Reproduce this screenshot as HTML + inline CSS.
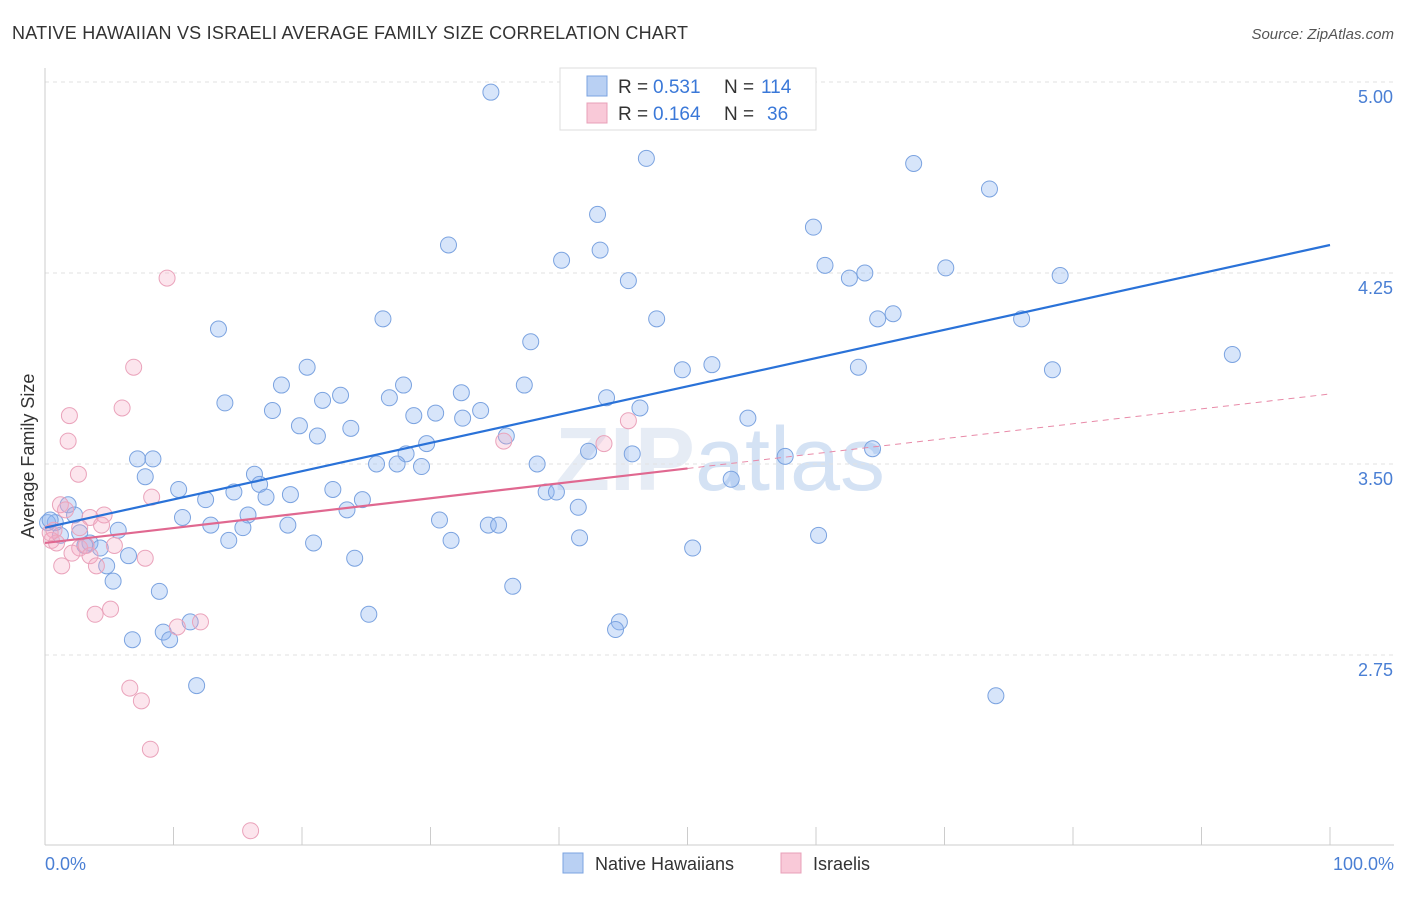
<!DOCTYPE html>
<html><head><meta charset="utf-8"><style>
body{margin:0;background:#fff;font-family:"Liberation Sans",sans-serif;}
svg text{font-family:"Liberation Sans",sans-serif;}
</style></head><body>
<svg id="chart" width="1406" height="892" viewBox="0 0 1406 892" xmlns="http://www.w3.org/2000/svg">
<text x="12" y="39" font-size="18" fill="#333" textLength="676">NATIVE HAWAIIAN VS ISRAELI AVERAGE FAMILY SIZE CORRELATION CHART</text>
<text x="1394" y="39" font-size="15" fill="#555" text-anchor="end" font-style="italic">Source: ZipAtlas.com</text>
<text x="720" y="490" font-size="90" fill="#e6ecf5" text-anchor="middle" font-weight="bold">ZIP<tspan font-weight="normal" fill="#d4e2f4">atlas</tspan></text>
<g id="grid"></g>
<line x1="45" y1="68" x2="45" y2="845" stroke="#ccc"/>
<line x1="45" y1="845" x2="1394" y2="845" stroke="#ccc"/>
<g id="xticks"></g>
<text transform="translate(34,456) rotate(-90)" font-size="18" fill="#333" text-anchor="middle">Average Family Size</text>
<text x="45" y="870" font-size="18" fill="#4a7fd4">0.0%</text>
<text x="1394" y="870" font-size="18" fill="#4a7fd4" text-anchor="end">100.0%</text>
<g id="points"></g>
<g id="trends"></g>
<g>
<rect x="560" y="68" width="256" height="62" fill="#fff" stroke="#ddd"/>
<rect x="587" y="76" width="20" height="20" fill="#b9d0f3" stroke="#7ba3e0"/>
<rect x="587" y="103" width="20" height="20" fill="#f9c9d8" stroke="#e8a0b8"/>
<text x="618" y="93" font-size="19" fill="#333">R =</text>
<text x="653" y="93" font-size="19" fill="#3a78d8">0.531</text>
<text x="724" y="93" font-size="19" fill="#333">N =</text>
<text x="761" y="93" font-size="19" fill="#3a78d8">114</text>
<text x="618" y="120" font-size="19" fill="#333">R =</text>
<text x="653" y="120" font-size="19" fill="#3a78d8">0.164</text>
<text x="724" y="120" font-size="19" fill="#333">N =</text>
<text x="767" y="120" font-size="19" fill="#3a78d8">36</text>
</g>
<g>
<rect x="563" y="853" width="20" height="20" fill="#b9d0f3" stroke="#7ba3e0"/>
<text x="595" y="870" font-size="18" fill="#333">Native Hawaiians</text>
<rect x="781" y="853" width="20" height="20" fill="#f9c9d8" stroke="#e8a0b8"/>
<text x="813" y="870" font-size="18" fill="#333">Israelis</text>
</g>
</svg>
<script>
const yTicks=[5.00,4.25,3.50,2.75];
const yTickLabels=["5.00","4.25","3.50","2.75"];
const blueX=[34.7,46.8,67.6,73.5,43.0,59.8,31.4,43.2,40.2,60.7,70.1,63.8,62.6,45.4,79.0,13.5,26.3,47.6,66.0,64.8,76.0,37.8,92.4,20.4,51.9,49.6,63.3,78.4,18.4,27.9,37.3,14.0,23.0,21.6,26.8,32.4,43.7,17.7,28.7,30.4,33.9,32.5,46.3,54.7,19.8,21.2,23.8,29.7,35.9,7.2,8.4,28.1,25.8,27.4,29.3,38.3,42.3,45.7,57.6,64.4,7.8,16.3,16.7,53.4,10.4,14.7,12.5,17.2,19.1,22.4,24.7,39.0,39.8,1.8,2.3,10.7,15.8,23.5,41.5,0.8,2.7,5.7,12.9,15.4,18.9,30.7,34.5,35.3,0.2,1.2,3.5,4.3,14.3,20.9,31.6,41.6,50.4,60.2,6.5,24.1,4.8,5.3,8.9,36.4,25.2,44.7,44.4,9.2,11.3,6.8,9.7,11.8,74.0,0.4,3.1];
const blueY=[4.96,4.70,4.68,4.58,4.48,4.43,4.36,4.34,4.30,4.28,4.27,4.25,4.23,4.22,4.24,4.03,4.07,4.07,4.09,4.07,4.07,3.98,3.93,3.88,3.89,3.87,3.88,3.87,3.81,3.81,3.81,3.74,3.77,3.75,3.76,3.78,3.76,3.71,3.69,3.70,3.71,3.68,3.72,3.68,3.65,3.61,3.64,3.58,3.61,3.52,3.52,3.54,3.50,3.50,3.49,3.50,3.55,3.54,3.53,3.56,3.45,3.46,3.42,3.44,3.40,3.39,3.36,3.37,3.38,3.40,3.36,3.39,3.39,3.34,3.30,3.29,3.30,3.32,3.33,3.27,3.23,3.24,3.26,3.25,3.26,3.28,3.26,3.26,3.27,3.22,3.19,3.17,3.20,3.19,3.20,3.21,3.17,3.22,3.14,3.13,3.10,3.04,3.00,3.02,2.91,2.88,2.85,2.84,2.88,2.81,2.81,2.63,2.59,3.28,3.18];
const pinkX=[9.5,6.9,6.0,1.9,1.8,2.6,8.3,1.2,1.6,4.6,3.5,4.4,2.7,0.7,0.5,0.9,2.7,3.2,2.1,5.4,3.5,7.8,1.3,4.0,5.1,3.9,10.3,12.1,6.6,7.5,8.2,16.0,35.7,43.5,45.4,0.4];
const pinkY=[4.23,3.88,3.72,3.69,3.59,3.46,3.37,3.34,3.32,3.30,3.29,3.26,3.25,3.24,3.20,3.19,3.17,3.18,3.15,3.18,3.14,3.13,3.10,3.10,2.93,2.91,2.86,2.88,2.62,2.57,2.38,2.06,3.59,3.58,3.67,3.23];
const blueTrend=[3.25,4.36];
const pinkTrend=[3.19,3.775];
const pinkSolidEnd=50;

const NS="http://www.w3.org/2000/svg";
const xS=p=>45+p*12.85;
const yS=v=>82+(5-v)*254.67;
function mk(tag,attrs,parent){const e=document.createElementNS(NS,tag);for(const k in attrs)e.setAttribute(k,attrs[k]);parent.appendChild(e);return e;}
const grid=document.getElementById('grid');
yTicks.forEach((t,i)=>{
  const l=mk('line',{x1:45,x2:1394,y1:yS(t),y2:yS(t),stroke:'#e2e2e2','stroke-dasharray':'4,4'},grid);
  
  
  const tx=mk('text',{x:1393,y:yS(t)+21,'font-size':18,fill:'#4a7fd4','text-anchor':'end'},grid);
  tx.textContent=yTickLabels[i];
  
  
});
const xt=document.getElementById('xticks');
for(let i=0;i<=10;i++){
  const l=mk('line',{x1:xS(i*10),x2:xS(i*10),y1:827,y2:845,stroke:'#ccc'},xt);
  
  
}
const pts=document.getElementById('points');
blueX.forEach((x,i)=>{
  const c=mk('circle',{cx:xS(x),cy:yS(blueY[i]),r:8,fill:'rgba(140,180,240,0.35)',stroke:'#7ba3e0','stroke-width':1},pts);
  
  
});
pinkX.forEach((x,i)=>{
  const c=mk('circle',{cx:xS(x),cy:yS(pinkY[i]),r:8,fill:'rgba(245,170,195,0.3)',stroke:'#eaa3bb','stroke-width':1},pts);
  
  
});
const tr=document.getElementById('trends');
const bl=mk('line',{x1:xS(0),y1:yS(blueTrend[0]),x2:xS(100),y2:yS(blueTrend[1]),stroke:'#2a72d8','stroke-width':2.2},tr);


const pv=p=>pinkTrend[0]+(pinkTrend[1]-pinkTrend[0])*p/100;
const ps=mk('line',{x1:xS(0),y1:yS(pv(0)),x2:xS(pinkSolidEnd),y2:yS(pv(pinkSolidEnd)),stroke:'#e06890','stroke-width':2.2},tr);


const pd=mk('line',{x1:xS(pinkSolidEnd),y1:yS(pv(pinkSolidEnd)),x2:xS(100),y2:yS(pv(100)),stroke:'#e88aa8','stroke-width':1,'stroke-dasharray':'6,5'},tr);


</script>
</body></html>
